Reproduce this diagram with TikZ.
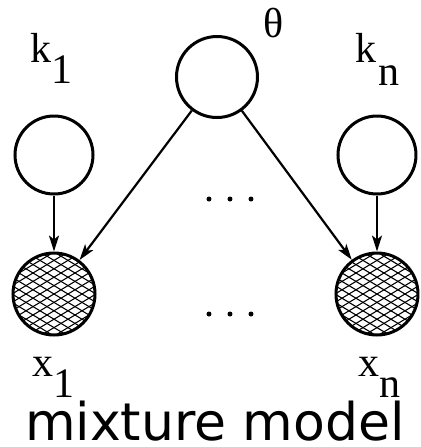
\documentclass[tikz,border=0pt]{standalone}
\usepackage{fontspec}
\setmainfont{Liberation Serif}
\newfontfamily\captionsans{DejaVu Sans}
\usetikzlibrary{arrows.meta}
\tikzset{
  latent/.style={circle, draw, line width=1.5pt, inner sep=0pt, minimum size=39pt},
  observed/.style={latent, minimum size=41pt, path picture={
    \begin{scope}[shift={(path picture bounding box.center)}]
      \foreach \c in {-11,...,11} {
        \draw[line width=0.55pt] (-60,\c*8.4-36) -- (60,\c*8.4+36);
        \draw[line width=0.55pt] (-60,\c*8.4+36) -- (60,\c*8.4-36);
      }
    \end{scope}}},
  edge/.style={line width=1.1pt, -{Stealth[length=8pt,width=5pt,inset=2pt]}},
  lbl/.style={anchor=base west, inner sep=0pt, font=\fontsize{21pt}{21pt}\selectfont},
}
\begin{document}
\begin{tikzpicture}[x=0.5pt,y=-0.5pt]
  \useasboundingbox (0,0) rectangle (421,447);

  % parameter and indicator variables
  \node[latent, minimum size=40.5pt] (theta) at (217,77) {};
  \node[latent] (k1) at (54,155) {};
  \node[latent] (kn) at (377,155) {};

  % observed data
  \node[observed] (x1) at (54,294) {};
  \node[observed] (xn) at (377,294) {};

  % dependencies
  \draw[edge] (k1) -- (x1);
  \draw[edge] (kn) -- (xn);
  \draw[edge] (theta) -- (x1);
  \draw[edge] (theta) -- (xn);

  % ellipses between the first and last items
  \foreach \x in {209,230,251} {
    \fill (\x,199) circle[radius=1.25pt];
    \fill (\x,314) circle[radius=1.25pt];
  }

  % variable labels
  \node[lbl] (thetalbl) at (263,37) {θ};
  \node[lbl] (k1lbl) at (30,62) {k\raisebox{-10.5pt}{1}};
  \node[lbl] (knlbl) at (355,62) {k\kern1pt\raisebox{-11.5pt}{n}};
  \node[lbl] (x1lbl) at (32,376) {x\raisebox{-10.5pt}{1}};
  \node[lbl] (xnlbl) at (358,376) {x\raisebox{-10.5pt}{n}};

  \node[anchor=base, inner sep=0pt, font=\captionsans\fontsize{26pt}{26pt}\selectfont] (caption) at (215,440) {mixture model};
\end{tikzpicture}
\end{document}
